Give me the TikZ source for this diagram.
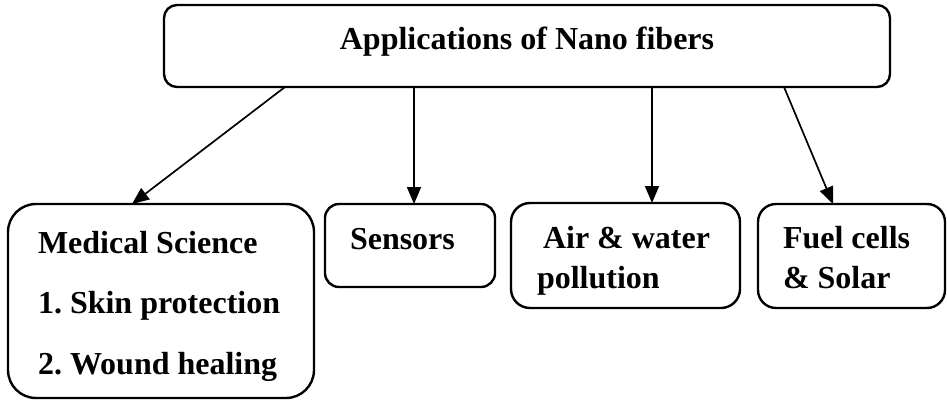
\documentclass[tikz,border=0pt]{standalone}
\usepackage{fontspec}
\setmainfont{Liberation Serif}
\frenchspacing
\usetikzlibrary{arrows.meta}
\tikzset{
    app box/.style={
        draw, rectangle, line width=2.4pt, rounded corners=#1,
        font=\bfseries\fontsize{32}{40}\selectfont,
        anchor=north west, inner sep=0pt, outer sep=0pt,
        text height=22pt
    },
    app box/.default=15pt,
    app arrow/.style={
        line width=1.7pt,
        -{Triangle[length=17pt,width=14pt]}
    }
}
\begin{document}
\begin{tikzpicture}[x=1pt,y=-1pt]
                \useasboundingbox (0,0) rectangle (947,401);
                % top box
                \node[app box=13pt, minimum width=726pt, minimum height=82pt, text depth=14pt]
                    (apps) at (164,5) {Applications of Nano fibers};
                % lower boxes
                \node[app box=28pt, font=\bfseries\fontsize{32}{60.5}\selectfont, align=flush left,
                    text width=246pt, inner xsep=30pt,
                    minimum width=305pt, minimum height=194pt, text depth=118pt]
                    (med) at (8,204) {Medical Science\\1. Skin protection\\2. Wound healing};
                \node[app box=14pt, align=flush left, text width=120pt, inner xsep=25pt,
                    minimum width=170pt, minimum height=83pt, text depth=15pt]
                    (sens) at (325,204) {Sensors};
                \node[app box=19pt, align=flush left, text width=177pt, inner xsep=26pt,
                    minimum width=229pt, minimum height=105pt, text depth=37pt]
                    (air) at (511,203) {\hspace*{6pt}Air \& water\\pollution};
                \node[app box=18pt, align=flush left, text width=137pt, inner xsep=25pt,
                    minimum width=187pt, minimum height=104pt, text depth=38pt]
                    (fuel) at (758,204) {Fuel cells\\\& Solar};
                % arrows
                \draw[app arrow] ([xshift=121pt]apps.south west) -- ([xshift=124pt]med.north west);
                \draw[app arrow] ([xshift=250pt]apps.south west) -- ([xshift=89pt]sens.north west);
                \draw[app arrow] ([xshift=488pt]apps.south west) -- ([xshift=141pt]air.north west);
                \draw[app arrow] ([xshift=620pt]apps.south west) -- ([xshift=75pt]fuel.north west);
            \end{tikzpicture}
\end{document}
